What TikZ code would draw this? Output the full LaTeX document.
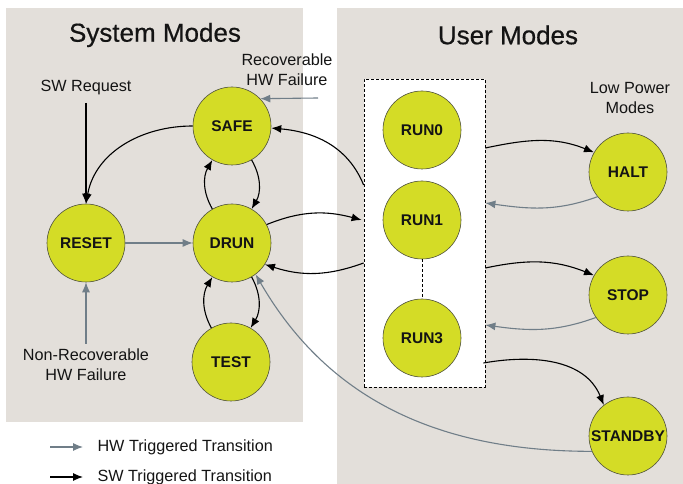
\documentclass[tikz,border=0pt]{standalone}
\usepackage{fontspec}
\setmainfont{Liberation Sans}
\newfontfamily\headfont[FakeBold=0.5]{Liberation Sans}
\usetikzlibrary{arrows.meta}

\definecolor{panelbg}{RGB}{227,223,218}
\definecolor{modefill}{RGB}{212,220,38}
\definecolor{modeline}{RGB}{80,82,60}
\definecolor{hwgrey}{RGB}{112,126,136}
\definecolor{inktext}{RGB}{20,20,20}

\tikzset{
  mode/.style={circle, draw=modeline, line width=0.6pt, fill=modefill,
    minimum size=78pt, inner sep=0pt, text=inktext,
    font=\fontsize{15.5}{15.5}\selectfont\bfseries},
  title/.style={text=inktext, font=\headfont\fontsize{26}{28}\selectfont},
  lbl/.style={text=inktext, font=\fontsize{16.2}{20}\selectfont, align=center},
  tip/.style={-{Latex[length=10pt,width=8pt]}},
  sw/.style={tip, line width=1.1pt, black},
  hw/.style={tip, line width=1.1pt, hwgrey},
}

\begin{document}
\begin{tikzpicture}[x=1pt,y=1pt]
\useasboundingbox (0,0) rectangle (683,484);

% background panels
\fill[panelbg] (6,62) rectangle (303,476);
\fill[panelbg] (337,-5) rectangle (690,476);

\node[title] (systitle) at (155,449) {System Modes};
\node[title] (usrtitle) at (508,449) {User Modes};

% run mode group
\node[draw, dashed, dash pattern=on 3pt off 2pt, line width=0.8pt, fill=white,
  minimum width=121pt, minimum height=308pt, inner sep=0pt] (box) at (424.5,251) {};

% modes
\node[mode] (safe)    at (232,358) {SAFE};
\node[mode] (reset)   at (86,241)  {RESET};
\node[mode] (drun)    at (232,241) {DRUN};
\node[mode] (test)    at (231,122) {TEST};
\node[mode] (run0)    at (422,354) {RUN0};
\node[mode] (run1)    at (422,264) {RUN1};
\node[mode] (run3)    at (422,146) {RUN3};
\node[mode] (halt)    at (628,312) {HALT};
\node[mode] (stop)    at (628,189) {STOP};
\node[mode] (standby) at (628,48)  {STANDBY};

\draw[dashed, dash pattern=on 3pt off 2pt, line width=0.8pt] (run1.south) -- (run3.north);

% labels
\node[lbl] (recov)  at (287,414) {Recoverable\\HW Failure};
\node[lbl] (swreq)  at (86,396)  {SW Request};
\node[lbl] (nonrec) at (86,119)  {Non-Recoverable\\HW Failure};
\node[lbl] (lowpwr) at (630,386) {Low Power\\Modes};

% system mode transitions
\coordinate (recovsrc) at (318,386);
\draw[hw] (recovsrc) -- (safe.44);
\draw[sw] ([yshift=-4pt]swreq.south) -- (reset.north);
\draw[hw] ([yshift=2pt]nonrec.north) -- (reset.south);
\draw[sw] (safe.west) to[out=180,in=80] (reset.north);
\draw[hw] (reset) -- (drun);
\draw[sw] (drun.120) to[bend left=30] (safe.240);
\draw[sw] (safe.300) to[bend left=30] (drun.60);
\draw[sw] (test.120) to[bend left=30] (drun.240);
\draw[sw] (drun.300) to[bend left=30] (test.60);

% system <-> user transitions
\draw[sw] (drun.28) to[out=22,in=165] ([xshift=-2pt]box.west |- run1);
\draw[sw] ([yshift=48pt]box.west) to[out=112,in=-5] (safe.-3);
\draw[sw] ([yshift=-30pt]box.west) to[out=200,in=-18] (drun.-33);
\draw[hw] (standby.203) to[out=180,in=-60] (drun.-53);

% user <-> low power transitions
\draw[sw] ([yshift=85pt]box.east) to[out=12,in=158] (halt.150);
\draw[hw] (halt.219) to[out=200,in=-8] ([yshift=30pt]box.east);
\draw[sw] ([yshift=-35pt]box.east) to[out=12,in=158] (stop.150);
\draw[hw] (stop.215) to[out=200,in=-8] ([yshift=-92pt]box.east);
\draw[sw] ([xshift=-2pt,yshift=-130pt]box.east) to[out=10,in=112] (standby.128);

% legend
\coordinate (lghwa) at (50,37);
\coordinate (lghwb) at (83,37);
\coordinate (lgswa) at (50,7);
\coordinate (lgswb) at (83,7);
\draw[hw] (lghwa) -- (lghwb);
\draw[sw] (lgswa) -- (lgswb);
\node[lbl, anchor=west] (lghw) at (94,37) {HW Triggered Transition};
\node[lbl, anchor=west] (lgsw) at (94,7)  {SW Triggered Transition};
\end{tikzpicture}
\end{document}
